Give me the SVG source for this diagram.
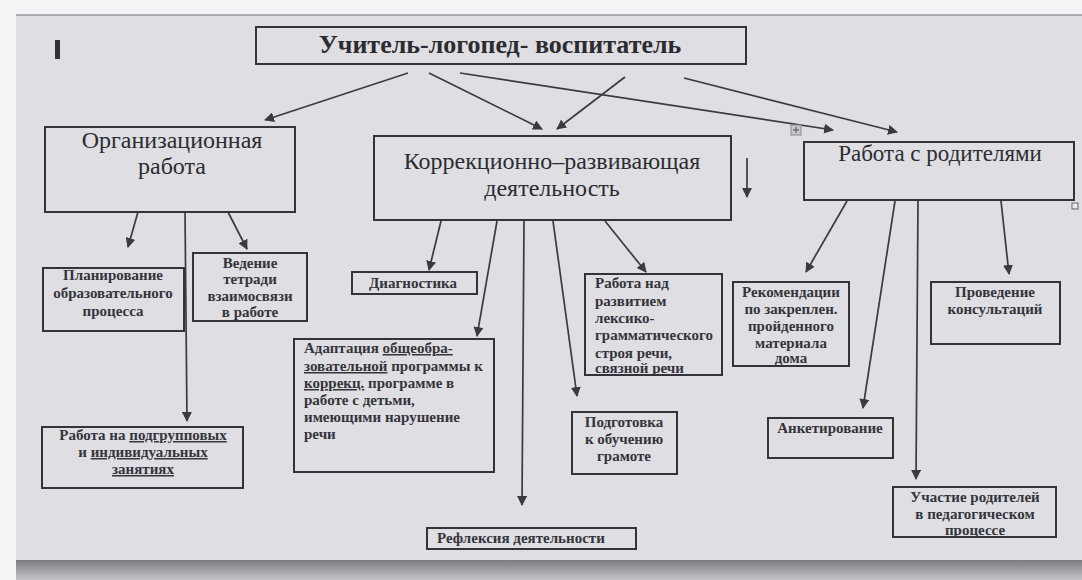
<svg xmlns="http://www.w3.org/2000/svg" width="1082" height="580" viewBox="0 0 1082 580">
<defs>
<style>
.box{fill:none;stroke:#333338;stroke-width:2}
.ln{fill:none;stroke:#3a3a40;stroke-width:1.7}
.big{font-family:'Liberation Serif','Times New Roman','DejaVu Serif',serif;fill:#2c2c30;text-anchor:middle}
.sm{font-family:'Liberation Serif','Times New Roman','DejaVu Serif',serif;font-size:15px;font-weight:bold;fill:#34343a}
.c{text-anchor:middle}
.u{text-decoration:underline}
</style>
<marker id="ah" viewBox="0 0 10 10" refX="9" refY="5" markerWidth="10" markerHeight="10" markerUnits="userSpaceOnUse" orient="auto">
<path d="M0,0 L10,5 L0,10 z" fill="#3a3a40"/>
</marker>
<linearGradient id="shadow" x1="0" y1="0" x2="0" y2="1">
<stop offset="0" stop-color="#7c7c80"/>
<stop offset="1" stop-color="#c4c4c8"/>
</linearGradient>
</defs>
<rect x="0" y="0" width="1082" height="580" fill="#f4f4f6"/>
<rect x="16" y="15" width="1066" height="548" fill="#dedee3"/>
<line x1="16" y1="15" x2="1082" y2="15" stroke="#9a9aa0" stroke-width="1.5"/>
<rect x="16" y="560" width="1066" height="20" fill="url(#shadow)"/>
<rect x="55" y="40" width="5" height="19" fill="#333"/>

<g id="connectors">
<line class="ln" x1="408" y1="73" x2="265" y2="120" marker-end="url(#ah)"/>
<line class="ln" x1="429" y1="73" x2="542" y2="129" marker-end="url(#ah)"/>
<line class="ln" x1="625" y1="77" x2="557" y2="129" marker-end="url(#ah)"/>
<line class="ln" x1="460" y1="73" x2="833" y2="130" marker-end="url(#ah)"/>
<line class="ln" x1="684" y1="78" x2="897" y2="132" marker-end="url(#ah)"/>
<line class="ln" x1="747" y1="158" x2="747" y2="197" marker-end="url(#ah)"/>
<line class="ln" x1="138" y1="212" x2="128" y2="247" marker-end="url(#ah)"/>
<line class="ln" x1="185" y1="212" x2="187" y2="421" marker-end="url(#ah)"/>
<line class="ln" x1="228" y1="212" x2="247" y2="249" marker-end="url(#ah)"/>
<line class="ln" x1="441" y1="221" x2="429" y2="270" marker-end="url(#ah)"/>
<line class="ln" x1="497" y1="221" x2="477" y2="336" marker-end="url(#ah)"/>
<line class="ln" x1="524" y1="221" x2="522" y2="505" marker-end="url(#ah)"/>
<line class="ln" x1="553" y1="221" x2="577" y2="396" marker-end="url(#ah)"/>
<line class="ln" x1="605" y1="221" x2="646" y2="272" marker-end="url(#ah)"/>
<line class="ln" x1="847" y1="201" x2="806" y2="272" marker-end="url(#ah)"/>
<line class="ln" x1="895" y1="201" x2="863" y2="408" marker-end="url(#ah)"/>
<line class="ln" x1="918" y1="201" x2="916" y2="479" marker-end="url(#ah)"/>
<line class="ln" x1="1001" y1="201" x2="1009" y2="274" marker-end="url(#ah)"/>
</g>

<g id="marks">
<rect x="791" y="125" width="10" height="10" fill="#c8c8cc" stroke="#8a8a90" stroke-width="1"/>
<line x1="796" y1="127" x2="796" y2="133" stroke="#555" stroke-width="1"/>
<line x1="793" y1="130" x2="799" y2="130" stroke="#555" stroke-width="1"/>
<rect x="1072" y="203" width="6" height="6" fill="#e8e8ec" stroke="#666" stroke-width="1"/>
</g>

<g font-family="'Liberation Serif','Times New Roman','DejaVu Serif',serif">
<g id="n-top">
<rect class="box" x="256" y="27" width="490" height="37"/>
<text class="big" x="500" y="53" font-size="26" font-weight="bold">Учитель-логопед-  воспитатель</text>
</g>

<g id="n-org">
<rect class="box" x="45" y="127" width="250" height="85"/>
<text class="big" x="172" y="148" font-size="24">Организационная</text>
<text class="big" x="172" y="174" font-size="24">работа</text>
</g>

<g id="n-korr">
<rect class="box" x="374" y="136" width="357" height="84"/>
<text class="big" x="552" y="169" font-size="24">Коррекционно–развивающая</text>
<text class="big" x="552" y="196" font-size="24">деятельность</text>
</g>

<g id="n-rod">
<rect class="box" x="804" y="142" width="270" height="58"/>
<text class="big" x="940" y="161" font-size="23">Работа с родителями</text>
</g>

<g id="n-plan">
<rect class="box" x="43" y="268" width="141" height="63"/>
<text class="sm c" x="113" y="280">Планирование</text>
<text class="sm c" x="113" y="298">образовательного</text>
<text class="sm c" x="113" y="316">процесса</text>
</g>

<g id="n-ved">
<rect class="box" x="193" y="253" width="114" height="68"/>
<text class="sm c" x="250" y="268">Ведение</text>
<text class="sm c" x="250" y="284">тетради</text>
<text class="sm c" x="250" y="301">взаимосвязи</text>
<text class="sm c" x="250" y="317">в работе</text>
</g>

<g id="n-podgr">
<rect class="box" x="42" y="427" width="201" height="61"/>
<text class="sm c" x="143" y="440">Работа на <tspan class="u">подгрупповых</tspan></text>
<text class="sm c" x="143" y="457">и <tspan class="u">индивидуальных</tspan></text>
<text class="sm c u" x="143" y="474">занятиях</text>
</g>

<g id="n-diag">
<rect class="box" x="352" y="272" width="125" height="22"/>
<text class="sm c" x="413" y="288">Диагностика</text>
</g>

<g id="n-adapt">
<rect class="box" x="294" y="339" width="200" height="133"/>
<text class="sm" x="304" y="353">Адаптация <tspan class="u">общеобра-</tspan></text>
<text class="sm" x="304" y="371"><tspan class="u">зовательной</tspan> программы к</text>
<text class="sm" x="304" y="388"><tspan class="u">коррекц.</tspan> программе в</text>
<text class="sm" x="304" y="405">работе с детьми,</text>
<text class="sm" x="304" y="422">имеющими нарушение</text>
<text class="sm" x="304" y="439">речи</text>
</g>

<g id="n-refl">
<rect class="box" x="427" y="528" width="209" height="21"/>
<text class="sm" x="437" y="543">Рефлексия деятельности</text>
</g>

<g id="n-podg">
<rect class="box" x="572" y="412" width="105" height="62"/>
<text class="sm c" x="624" y="427">Подготовка</text>
<text class="sm c" x="624" y="444">к обучению</text>
<text class="sm c" x="624" y="461">грамоте</text>
</g>

<g id="n-leks">
<rect class="box" x="585" y="274" width="137" height="101"/>
<text class="sm" x="595" y="288">Работа над</text>
<text class="sm" x="595" y="306">развитием</text>
<text class="sm" x="595" y="323">лексико-</text>
<text class="sm" x="595" y="340">грамматического</text>
<text class="sm" x="595" y="358">строя речи,</text>
<text class="sm" x="595" y="373">связной речи</text>
</g>

<g id="n-rek">
<rect class="box" x="733" y="282" width="116" height="84"/>
<text class="sm c" x="791" y="297">Рекомендации</text>
<text class="sm c" x="791" y="314">по закреплен.</text>
<text class="sm c" x="791" y="331">пройденного</text>
<text class="sm c" x="791" y="348">материала</text>
<text class="sm c" x="791" y="363">дома</text>
</g>

<g id="n-prov">
<rect class="box" x="931" y="282" width="129" height="62"/>
<text class="sm c" x="995" y="297">Проведение</text>
<text class="sm c" x="995" y="314">консультаций</text>
</g>

<g id="n-anket">
<rect class="box" x="768" y="418" width="125" height="40"/>
<text class="sm c" x="830" y="433">Анкетирование</text>
</g>

<g id="n-uch">
<rect class="box" x="893" y="487" width="163" height="50"/>
<text class="sm c" x="975" y="502">Участие родителей</text>
<text class="sm c" x="975" y="519">в педагогическом</text>
<text class="sm c" x="975" y="535">процессе</text>
</g>
</g>
</svg>
